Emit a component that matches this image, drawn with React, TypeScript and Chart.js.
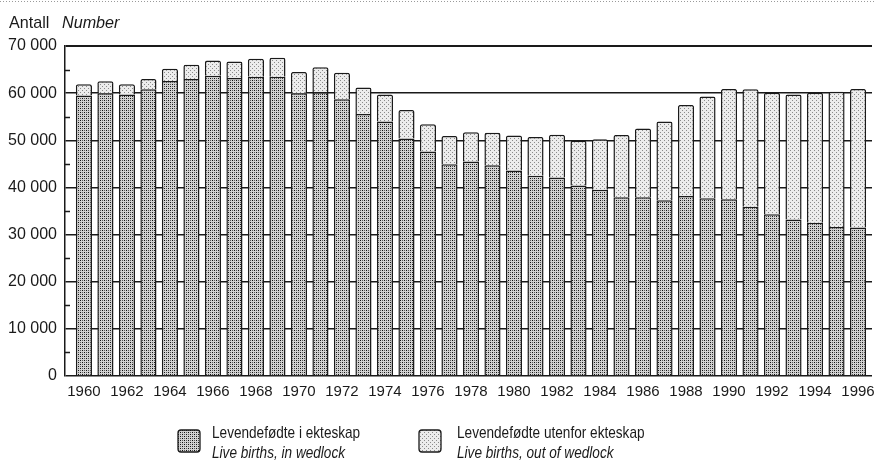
import React, { useEffect, useRef } from 'react';
import { Chart, registerables } from 'chart.js';

Chart.register(...registerables);

// ---- Data ----
const years = [
  1960, 1961, 1962, 1963, 1964, 1965, 1966, 1967, 1968, 1969,
  1970, 1971, 1972, 1973, 1974, 1975, 1976, 1977, 1978, 1979,
  1980, 1981, 1982, 1983, 1984, 1985, 1986, 1987, 1988, 1989,
  1990, 1991, 1992, 1993, 1994, 1995, 1996,
];

// Levendefødte i ekteskap / Live births, in wedlock
const inWedlock = [
  59500, 60000, 59700, 60800, 62600, 63000, 63700, 63200, 63500, 63500,
  60000, 60200, 58700, 55600, 54000, 50400, 47600, 44900, 45500, 44700,
  43600, 42500, 42100, 40400, 39500, 37900, 37900, 37300, 38200, 37700,
  37500, 35900, 34300, 33200, 32500, 31600, 31500,
];

// Levendefødte utenfor ekteskap / Live births, out of wedlock
const outOfWedlock = [
  2400, 2500, 2200, 2200, 2600, 3000, 3200, 3500, 3800, 4000,
  4500, 5300, 5600, 5600, 5700, 6000, 5800, 6000, 6200, 6900,
  7400, 8200, 9100, 9500, 10700, 13200, 14600, 16700, 19300, 21600,
  23400, 24900, 25800, 26500, 27600, 28700, 29400,
];

const minorTickValues = [5000, 15000, 25000, 35000, 45000, 55000, 65000];

const titleText = 'Antall';
const titleItalicText = 'Number';

const legendMain = ['Levendefødte i ekteskap', 'Levendefødte utenfor ekteskap'];
const legendSub = ['Live births, in wedlock', 'Live births, out of wedlock'];

const FONT = "'Liberation Sans Narrow', 'Liberation Sans', Arial, sans-serif";
const INK = '#1a1a1a';

function makePattern(bg: string, dots: Array<[number, number, string]>, size: number) {
  const c = document.createElement('canvas');
  c.width = size;
  c.height = size;
  const g = c.getContext('2d')!;
  g.fillStyle = bg;
  g.fillRect(0, 0, size, size);
  dots.forEach(([x, y, col]) => {
    g.fillStyle = col;
    g.fillRect(x, y, 1, 1);
  });
  const tmp = document.createElement('canvas').getContext('2d')!;
  return tmp.createPattern(c, 'repeat') as CanvasPattern;
}

export default function App() {
  const ref = useRef<HTMLCanvasElement | null>(null);

  useEffect(() => {
    const canvas = ref.current;
    if (!canvas) return;

    const darkPattern = makePattern(
      '#d2d2d2',
      [
        [0, 0, '#111'],
        [2, 2, '#111'],
        [2, 0, '#5a5a5a'],
        [0, 2, '#5a5a5a'],
      ],
      4
    );
    const lightPattern = makePattern(
      '#ececec',
      [
        [0, 0, '#8a8a8a'],
        [2, 2, '#8a8a8a'],
      ],
      4
    );

    const drawNarrow = (
      ctx: CanvasRenderingContext2D,
      text: string,
      x: number,
      y: number,
      font: string,
      sx: number
    ) => {
      ctx.save();
      ctx.font = font;
      ctx.translate(x, y);
      ctx.scale(sx, 1);
      ctx.fillText(text, 0, 0);
      ctx.restore();
    };

    const decorPlugin = {
      id: 'decor',
      afterDraw(chart: any) {
        const ctx = chart.ctx as CanvasRenderingContext2D;
        const area = chart.chartArea;
        const yScale = chart.scales.y;
        ctx.save();

        // dotted scan edge at very top
        ctx.strokeStyle = '#9a9a9a';
        ctx.lineWidth = 1;
        ctx.setLineDash([1, 2]);
        ctx.beginPath();
        ctx.moveTo(0, 1.5);
        ctx.lineTo(874, 1.5);
        ctx.stroke();
        ctx.setLineDash([]);

        // minor ticks on left axis (inward)
        ctx.strokeStyle = INK;
        ctx.lineWidth = 1.5;
        minorTickValues.forEach((v) => {
          const y = Math.round(yScale.getPixelForValue(v)) + 0.5;
          ctx.beginPath();
          ctx.moveTo(area.left, y);
          ctx.lineTo(area.left + 5, y);
          ctx.stroke();
        });

        // title
        ctx.fillStyle = INK;
        ctx.textBaseline = 'alphabetic';
        ctx.textAlign = 'left';
        drawNarrow(ctx, titleText, 9, 28, `17px ${FONT}`, 0.95);
        drawNarrow(ctx, titleItalicText, 62, 28, `italic 17px ${FONT}`, 0.95);

        // legend
        const boxes = [
          { x: 178, pat: darkPattern, tx: 212 },
          { x: 419, pat: lightPattern, tx: 457 },
        ];
        boxes.forEach((b, i) => {
          const bx = b.x;
          const by = 430;
          const w = 22;
          const h = 22;
          ctx.beginPath();
          const r = 3;
          ctx.moveTo(bx + r, by);
          ctx.lineTo(bx + w - r, by);
          ctx.quadraticCurveTo(bx + w, by, bx + w, by + r);
          ctx.lineTo(bx + w, by + h - r);
          ctx.quadraticCurveTo(bx + w, by + h, bx + w - r, by + h);
          ctx.lineTo(bx + r, by + h);
          ctx.quadraticCurveTo(bx, by + h, bx, by + h - r);
          ctx.lineTo(bx, by + r);
          ctx.quadraticCurveTo(bx, by, bx + r, by);
          ctx.closePath();
          ctx.fillStyle = b.pat;
          ctx.fill();
          ctx.strokeStyle = INK;
          ctx.lineWidth = 1.3;
          ctx.stroke();

          ctx.fillStyle = INK;
          drawNarrow(ctx, legendMain[i], b.tx, 438, `17px ${FONT}`, 0.8);
          drawNarrow(ctx, legendSub[i], b.tx, 458, `italic 17px ${FONT}`, 0.8);
        });

        ctx.restore();
      },
    };

    const chart = new Chart(canvas, {
      type: 'bar',
      data: {
        datasets: [
          {
            label: legendMain[0],
            data: years.map((yr, i) => ({ x: yr, y: inWedlock[i] })),
            backgroundColor: darkPattern,
            borderColor: INK,
            borderWidth: 1.5,
            borderRadius: 2,
            barPercentage: 0.75,
            categoryPercentage: 1,
          },
          {
            label: legendMain[1],
            data: years.map((yr, i) => ({ x: yr, y: outOfWedlock[i] })),
            backgroundColor: lightPattern,
            borderColor: INK,
            borderWidth: 1.5,
            borderRadius: 2,
            barPercentage: 0.75,
            categoryPercentage: 1,
          },
        ],
      },
      options: {
        responsive: false,
        animation: false,
        events: [],
        layout: { padding: { left: 0, right: 2, top: 46, bottom: 0 } },
        plugins: {
          legend: { display: false },
          tooltip: { enabled: false },
          title: { display: false },
        },
        scales: {
          x: {
            type: 'linear',
            stacked: true,
            min: 1959.12,
            max: 1996.65,
            offset: false,
            grid: { display: false, drawTicks: false },
            border: { display: false },
            ticks: {
              stepSize: 2,
              includeBounds: false,
              autoSkip: false,
              maxRotation: 0,
              minRotation: 0,
              padding: 7,
              color: INK,
              font: { family: FONT, size: 15 },
              callback: (v: any) => String(v),
            },
            afterFit: (scale: any) => {
              scale.height = 87;
              scale.paddingLeft = 0;
              scale.paddingRight = 0;
            },
          } as any,
          y: {
            stacked: true,
            min: 0,
            max: 70000,
            grid: {
              drawTicks: false,
              color: INK,
              lineWidth: (c: any) => (c.tick && c.tick.value === 70000 ? 2 : 1.4),
            },
            border: { display: true, color: INK, width: 1.5 },
            ticks: {
              stepSize: 10000,
              padding: 8,
              color: INK,
              font: { family: FONT, size: 16 },
              callback: (v: any) => (v === 0 ? '0' : `${v / 1000} 000`),
            },
            afterFit: (scale: any) => {
              scale.width = 65;
            },
          } as any,
        },
      },
      plugins: [decorPlugin],
    });

    return () => chart.destroy();
  }, []);

  return (
    <div style={{ position: 'fixed', left: 0, top: 0, width: 874, height: 463, background: '#fff' }}>
      <canvas ref={ref} width={874} height={463} style={{ display: 'block' }} />
    </div>
  );
}
